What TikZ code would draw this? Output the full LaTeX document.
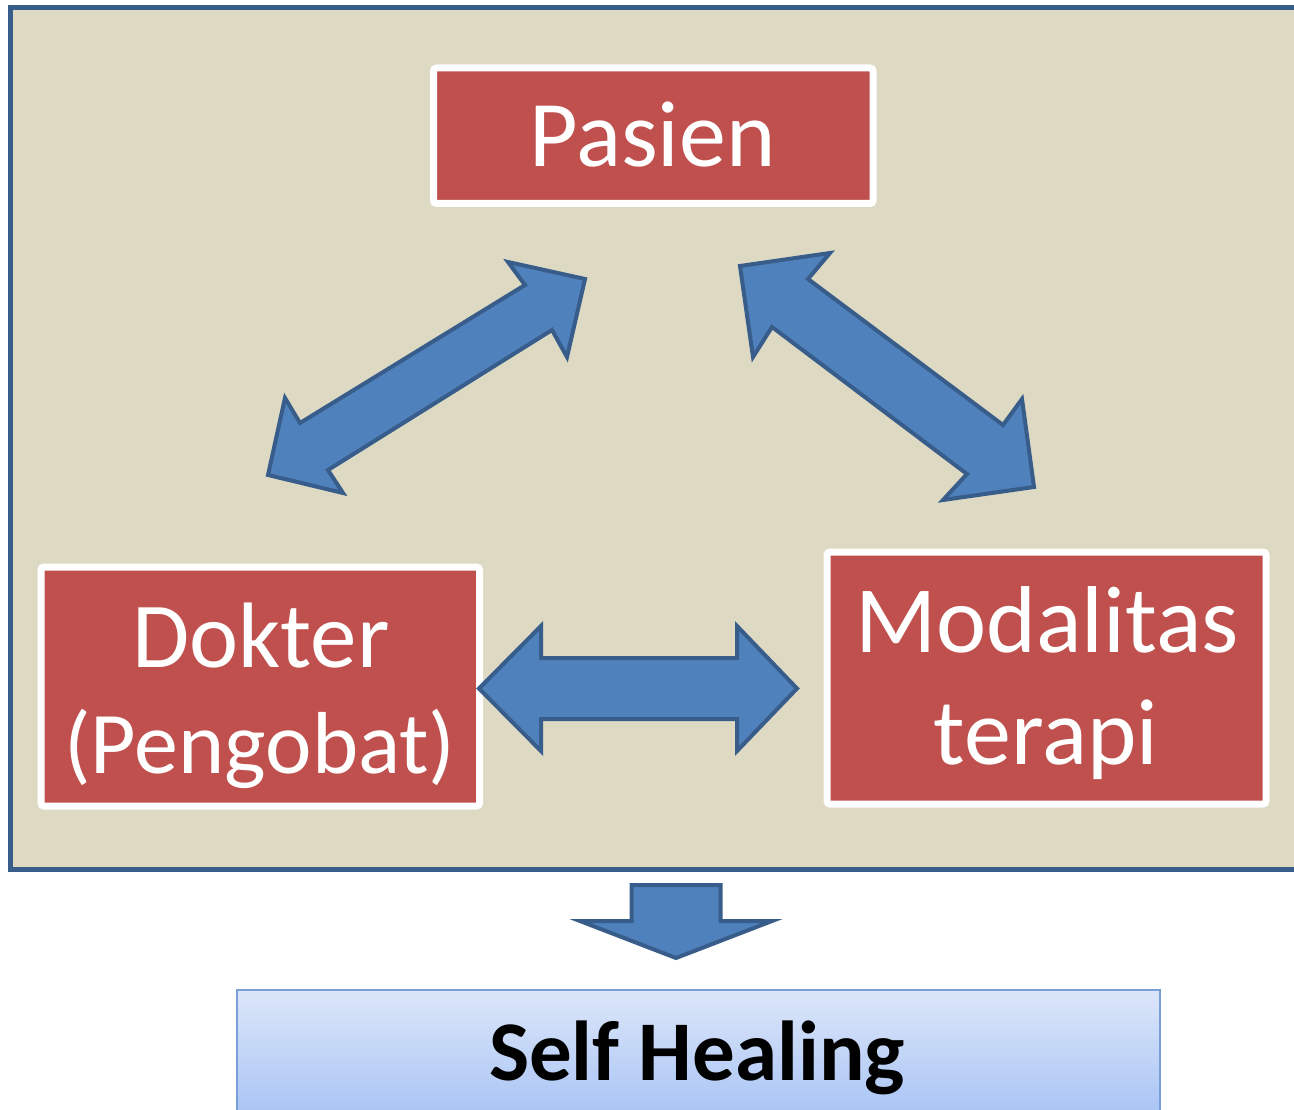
\documentclass[tikz,border=0pt]{standalone}
\usepackage{fontspec}
\setmainfont{Carlito}
\definecolor{bgtan}{HTML}{DDD9C3}
\definecolor{frameblue}{HTML}{385D8A}
\definecolor{arrowfill}{HTML}{4F81BD}
\definecolor{boxred}{HTML}{C0504D}
\definecolor{healtop}{HTML}{DCE6F9}
\definecolor{healbot}{HTML}{A7C3F5}
\definecolor{healedge}{HTML}{7A9FD8}
\begin{document}
\begin{tikzpicture}[x=1pt,y=-1pt,
  redbox/.style={draw=white, line width=7pt, fill=boxred, rounded corners=3pt, inner sep=0pt},
  bigtext/.style={text=white, font=\fontsize{#1}{110}\selectfont, inner sep=0pt, anchor=base},
  bigtext/.default=92,
  blockarrow/.style={draw=frameblue, fill=arrowfill, line width=4pt, line join=miter},
]
\useasboundingbox (0,0) rectangle (1294,1110);
% frame
\path[draw=frameblue, fill=bgtan, line width=5pt] (10.5,7.5) rectangle (1315,869.5);
% boxes
\node[redbox, minimum width=439.5pt, minimum height=135.5pt] (pasien) at (653.25,135.75) {};
\node[redbox, minimum width=438.5pt, minimum height=239pt] (dokter) at (260.25,686.5) {};
\node[redbox, minimum width=439pt, minimum height=252pt] (modal) at (1046.5,678) {};
\node[bigtext=94] (tpasien) at (652.5,167) {Pasien};
\node[bigtext=93] (tdok1) at (261,667) {Dokter};
\node[bigtext=88] (tdok2) at (260,773) {(Pengobat)};
\node[bigtext=95] (tmod1) at (1047,652) {Modalitas};
\node[bigtext=94] (tmod2) at (1046,764) {terapi};
% block arrows
\draw[blockarrow] (585,279) -- (508,262) -- (525,285) -- (300,423) -- (285,398) -- (268,475)
  -- (343,493) -- (328,470) -- (552,330) -- (567,357) -- cycle;
\draw[blockarrow] (740,266) -- (830,253) -- (808,279) -- (1003,425) -- (1022,399) -- (1034,487)
  -- (943,500) -- (967,474) -- (772,327) -- (753,357) -- cycle;
\draw[blockarrow] (479,688.5) -- (541,626) -- (541,658) -- (737,658) -- (737,626) -- (797,688.5)
  -- (737,751) -- (737,719) -- (541,719) -- (541,751) -- cycle;
\draw[blockarrow] (631.5,885) -- (720.5,885) -- (720.5,921) -- (772,921) -- (676,958)
  -- (580,921) -- (631.5,921) -- cycle;
% result
\node[draw=healedge, line width=1.5pt, top color=healtop, bottom color=healbot,
  minimum width=923pt, minimum height=130pt, inner sep=0pt] (heal) at (698.5,1055) {};
\node[anchor=base, inner sep=0pt, font=\fontsize{85}{100}\selectfont\bfseries] (theal) at (697,1080) {Self Healing};
\end{tikzpicture}
\end{document}
